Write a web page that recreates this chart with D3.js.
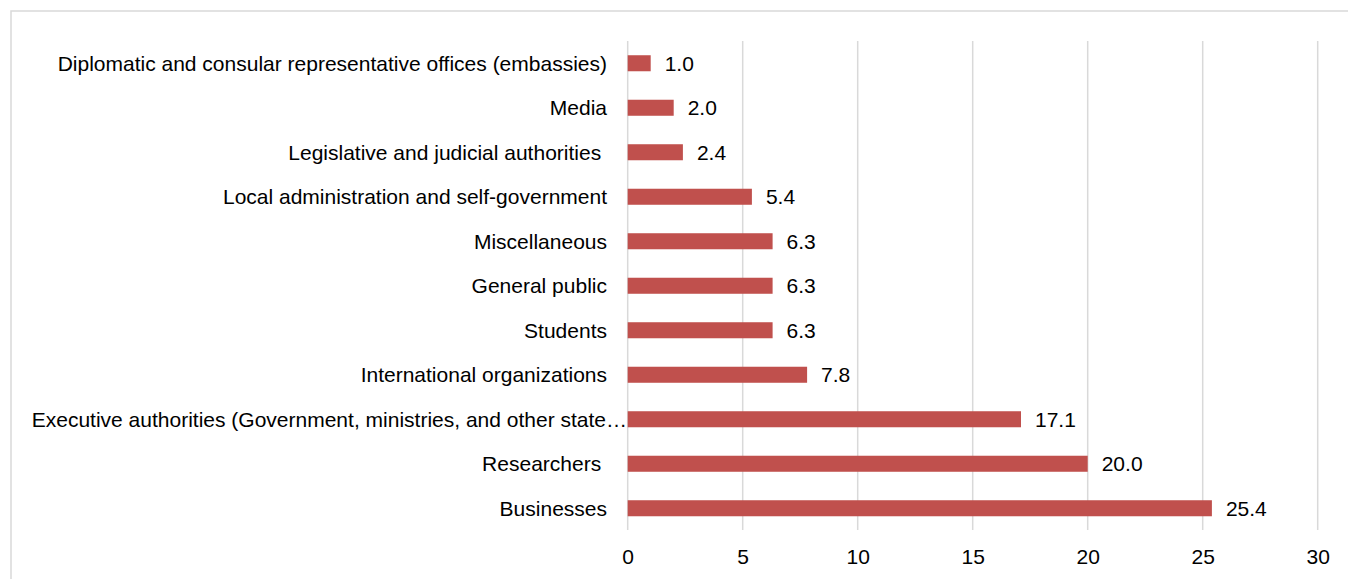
<!DOCTYPE html>
<html><head><meta charset="utf-8">
<script src="https://cdn.jsdelivr.net/npm/d3@7"></script>
<style>
html,body{margin:0;padding:0;background:#fff;}
text{font-family:"Liberation Sans",Arial,Helvetica,sans-serif;fill:#000;}
</style></head>
<body><svg id="chart" width="1348" height="579"></svg>
<script>
const categories = [
  "Diplomatic and consular representative offices (embassies)",
  "Media",
  "Legislative and judicial authorities ",
  "Local administration and self-government",
  "Miscellaneous",
  "General public",
  "Students",
  "International organizations",
  "Executive authorities (Government, ministries, and other state…",
  "Researchers ",
  "Businesses"
];
const values = [1.0, 2.0, 2.4, 5.4, 6.3, 6.3, 6.3, 7.8, 17.1, 20.0, 25.4];
const xTicks = [0, 5, 10, 15, 20, 25, 30];

const FS = 21;
const svg = d3.select("#chart");
// frame
svg.append("rect").attr("x", 11).attr("y", 11).attr("width", 1400).attr("height", 700)
  .attr("fill", "none").attr("stroke", "#d9d9d9").attr("stroke-width", 1.5);

const x = d3.scaleLinear().domain([0, 30]).range([627.7, 1317.7]);
const y = d3.scaleBand().domain(categories).range([41, 530.5]).paddingInner(0.64).paddingOuter(0.32);

// gridlines
svg.append("g").selectAll("line").data(xTicks).join("line")
  .attr("x1", d => x(d)).attr("x2", d => x(d))
  .attr("y1", 41).attr("y2", 530)
  .attr("stroke", "#d9d9d9").attr("stroke-width", 1.5);

// bars
svg.append("g").selectAll("rect").data(values).join("rect")
  .attr("x", x(0)).attr("y", (d, i) => y(categories[i]))
  .attr("width", d => x(d) - x(0)).attr("height", y.bandwidth())
  .attr("fill", "#C0504D");

// value labels
svg.append("g").selectAll("text").data(values).join("text")
  .attr("x", d => x(d) + 14).attr("y", (d, i) => y(categories[i]) + y.bandwidth() / 2)
  .attr("dy", "0.35em").attr("font-size", FS)
  .text(d => d.toFixed(1));

// category labels
svg.append("g").selectAll("text").data(categories).join("text")
  .attr("x", d => d.endsWith("…") ? 627 : 607)
  .attr("y", d => y(d) + y.bandwidth() / 2)
  .attr("dy", "0.35em").attr("text-anchor", "end").attr("font-size", FS)
  .style("white-space", "pre")
  .text(d => d);

// x axis
const ax = svg.append("g").attr("transform", "translate(0,540)")
  .call(d3.axisBottom(x).tickValues(xTicks).tickSize(0).tickPadding(9));
ax.select(".domain").remove();
ax.selectAll("text").attr("font-size", FS).attr("font-family", "'Liberation Sans',Arial,sans-serif").attr("fill", "#000");
</script></body></html>
